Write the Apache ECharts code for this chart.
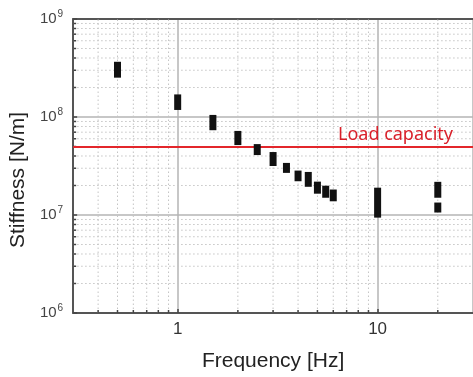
<!DOCTYPE html>
<html>
<head>
<meta charset="utf-8">
<script src="https://cdn.jsdelivr.net/npm/echarts@6/dist/echarts.min.js"></script>
<style>
  html, body { margin: 0; padding: 0; background: #fff; }
  #chart { width: 473px; height: 377px; }
</style>
</head>
<body>
<div id="chart"></div>
<script>
// measured frequency [Hz] and stiffness range [N/m] (low / high) per measurement
const freqs = [0.5, 1, 1.5, 2, 2.5, 3, 3.5, 4, 4.5, 5, 5.5, 6, 10, 20, 20]
const stiffLow = [2.52e8, 1.18e8, 7.33e7, 5.17e7, 4.09e7, 3.16e7, 2.69e7, 2.21e7, 1.94e7, 1.65e7, 1.50e7, 1.38e7, 9.4e6, 1.50e7, 1.06e7]
const stiffHigh = [3.66e8, 1.70e8, 1.05e8, 7.21e7, 5.29e7, 4.39e7, 3.40e7, 2.84e7, 2.75e7, 2.19e7, 1.99e7, 1.82e7, 1.90e7, 2.18e7, 1.34e7]

const loadCapacity = 5e7

// minor grid positions (2..9 per decade)
const minorX = [0.4, 0.5, 0.6, 0.7, 0.8, 0.9, 2, 3, 4, 5, 6, 7, 8, 9, 20]
const minorY = [2e6, 3e6, 4e6, 5e6, 6e6, 7e6, 8e6, 9e6, 2e7, 3e7, 4e7, 5e7, 6e7, 7e7, 8e7, 9e7, 2e8, 3e8, 4e8, 5e8, 6e8, 7e8, 8e8, 9e8]

const X_MIN = 0.3, X_MAX = 30, Y_MIN = 1e6, Y_MAX = 1e9

const chart = echarts.init(document.getElementById('chart'))

const isDecade = (v) => Math.abs(Math.log10(v) - Math.round(Math.log10(v))) < 1e-6
const dotted = { stroke: '#c4c4c4', lineWidth: 1, lineDash: [1.5, 2.5] }

chart.setOption({
  animation: false,
  grid: { left: 70, right: -1, top: 19, bottom: 62 },
  xAxis: [
    {
      type: 'log',
      logBase: 10,
      min: X_MIN,
      max: X_MAX,
      name: 'Frequency [Hz]',
      nameLocation: 'middle',
      nameGap: 38,
      nameTextStyle: { fontFamily: 'Liberation Sans', fontSize: 21, color: '#222' },
      axisLine: { lineStyle: { color: '#555', width: 2 } },
      axisTick: { inside: true, length: 4, lineStyle: { color: '#444', width: 1.5 } },
      axisLabel: {
        fontFamily: 'Liberation Sans',
        fontSize: 17,
        color: '#333',
        margin: 8,
        showMinLabel: false,
        showMaxLabel: false,
        formatter: (v) => (isDecade(v) ? String(Math.round(v)) : ''),
      },
      splitLine: { show: true, lineStyle: { color: '#b4b4b4', width: 1.5 } },
    },
    {
      type: 'log',
      logBase: 10,
      min: X_MIN,
      max: X_MAX,
      position: 'top',
      axisLine: { lineStyle: { color: '#555', width: 2 } },
      axisTick: { show: false },
      axisLabel: { show: false },
      splitLine: { show: false },
    },
  ],
  yAxis: {
    type: 'log',
    logBase: 10,
    min: Y_MIN,
    max: Y_MAX,
    name: 'Stiffness [N/m]',
    nameLocation: 'middle',
    nameGap: 44,
    nameTextStyle: { fontFamily: 'Liberation Sans', fontSize: 21, color: '#222', padding: [0, 28, 0, 0] },
    axisLine: { show: true, lineStyle: { color: '#555', width: 2 } },
    axisTick: { inside: true, length: 4, lineStyle: { color: '#444', width: 1.5 } },
    axisLabel: {
      margin: 10,
      formatter: (v) => '{b|10}{s|' + Math.round(Math.log10(v)) + '}',
      rich: {
        b: { fontFamily: 'Liberation Sans', fontSize: 15, color: '#444' },
        s: { fontFamily: 'Liberation Sans', fontSize: 10, color: '#444', padding: [0, 0, 9, 1] },
      },
    },
    splitLine: { show: true, lineStyle: { color: '#b4b4b4', width: 1.5 } },
  },
  series: [
    {
      name: 'minor x grid',
      type: 'custom',
      silent: true,
      z: 1,
      data: minorX.map((v) => [v, Y_MIN]),
      renderItem: (params, api) => {
        const b = api.coord([api.value(0), Y_MIN])
        const t = api.coord([api.value(0), Y_MAX])
        return {
          type: 'group',
          children: [
            { type: 'line', shape: { x1: b[0], y1: b[1], x2: t[0], y2: t[1] }, style: dotted },
            { type: 'line', shape: { x1: b[0], y1: b[1], x2: b[0], y2: b[1] - 3 }, style: { stroke: '#444', lineWidth: 1.5 } },
          ],
        }
      },
    },
    {
      name: 'minor y grid',
      type: 'custom',
      silent: true,
      z: 1,
      data: minorY.map((v) => [X_MIN, v]),
      renderItem: (params, api) => {
        const l = api.coord([X_MIN, api.value(1)])
        const r = api.coord([X_MAX, api.value(1)])
        return {
          type: 'group',
          children: [
            { type: 'line', shape: { x1: l[0], y1: l[1], x2: r[0], y2: r[1] }, style: dotted },
            { type: 'line', shape: { x1: l[0], y1: l[1], x2: l[0] + 3, y2: l[1] }, style: { stroke: '#444', lineWidth: 1.5 } },
          ],
        }
      },
    },
    {
      name: 'Stiffness',
      type: 'custom',
      z: 5,
      data: freqs.map((f, i) => [f, stiffLow[i], stiffHigh[i]]),
      renderItem: (params, api) => {
        const lo = api.coord([api.value(0), api.value(1)])
        const hi = api.coord([api.value(0), api.value(2)])
        const w = 7
        return {
          type: 'rect',
          shape: { x: lo[0] - w / 2, y: hi[1], width: w, height: lo[1] - hi[1] },
          style: { fill: '#111' },
        }
      },
      markLine: {
        silent: true,
        symbol: 'none',
        lineStyle: { color: '#e3262b', width: 2, type: 'solid' },
        label: {
          show: true,
          position: 'insideEndTop',
          formatter: 'Load capacity',
          fontFamily: 'Noto Sans',
          fontSize: 18,
          color: '#d9202a',
          distance: [20, 3],
        },
        data: [{ yAxis: loadCapacity }],
      },
    },
  ],
})

window.addEventListener('resize', () => chart.resize())
</script>
</body>
</html>
